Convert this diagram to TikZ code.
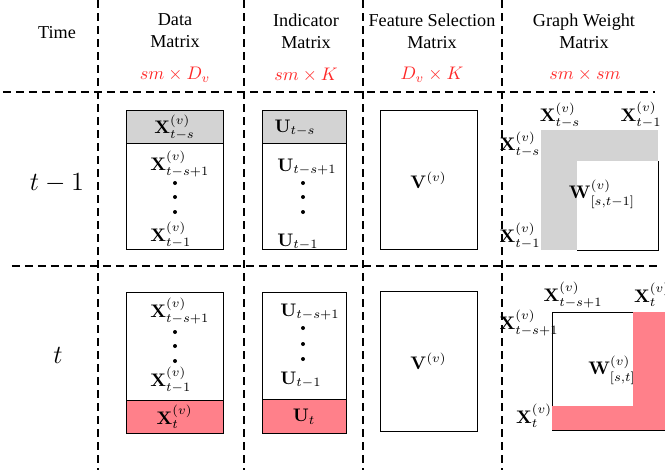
\documentclass[tikz,border=0pt]{standalone}
\usepackage[no-math]{fontspec}
\setmainfont{Liberation Serif}
\usepackage{xcolor}
\usetikzlibrary{positioning}

\definecolor{shadegray}{RGB}{211,211,211}
\definecolor{newpink}{RGB}{255,128,138}
\definecolor{dimred}{RGB}{255,40,40}

\begin{document}
\begin{tikzpicture}[
    x=0.55pt, y=-0.55pt,
    grid/.style={draw, line width=0.8pt, dash pattern=on 4.4pt off 2.75pt},
    mat/.style={draw, line width=0.5pt},
    hdr/.style={align=center, font=\normalsize},
    dimlbl/.style={text=dimred},
    timelbl/.style={font=\fontsize{13.5}{16}\selectfont},
    entry/.style={inner sep=0pt},
    lentry/.style={inner sep=0pt, anchor=west}
]
\useasboundingbox (0,0) rectangle (665,470);

% Grid
\foreach \gx in {98,244,363,502}
    \draw [grid] (\gx,0) -- (\gx,470);
\draw [grid] (3,92) -- (655,92);
\draw [grid] (12,266) -- (660,266);

% Header Section
\node [hdr] (timehd) at (57,33) {Time};
\node [hdr] (datahd) at (175,31) {Data\\Matrix};
\node [hdr] (indhd) at (306,31) {Indicator\\Matrix};
\node [hdr] (feathd) at (432,31) {Feature Selection\\Matrix};
\node [hdr] (graphhd) at (584,31) {Graph Weight\\Matrix};
\node [dimlbl] (datadim) at (175,75) {$sm\times D_v$};
\node [dimlbl] (inddim) at (306,75) {$sm\times K$};
\node [dimlbl] (featdim) at (432,75) {$D_v\times K$};
\node [dimlbl] (graphdim) at (585,75) {$sm\times sm$};

% Time labels
\node [timelbl] (prevt) at (57,183) {$t-1$};
\node [timelbl] (curt) at (58,355) {$t$};

% Row t-1: boxes
\fill [shadegray] (126,110) rectangle (223,143);
\draw [mat] (126,110) rectangle (223,249);
\draw [mat] (126,143) -- (223,143);
\fill [shadegray] (262,110) rectangle (346,143);
\draw [mat] (262,110) rectangle (346,249);
\draw [mat] (262,143) -- (346,143);
\draw [mat] (380,110) rectangle (477,249);

% Row t-1: entries
\node [entry] (xa1) at (174.5,127) {$\mathbf{X}^{(v)}_{t-s}$};
\node [lentry] (xa2) at (150,164) {$\mathbf{X}^{(v)}_{t-s+1}$};
\node [lentry] (xa3) at (150,235) {$\mathbf{X}^{(v)}_{t-1}$};
\node [entry] (ua1) at (295,128) {$\mathbf{U}_{t-s}$};
\node [lentry] (ua2) at (277,167) {$\mathbf{U}_{t-s+1}$};
\node [lentry] (ua3) at (277,242) {$\mathbf{U}_{t-1}$};
\node [entry] (va) at (428.5,180) {$\mathbf{V}^{(v)}$};
\foreach \dy in {183,197,212} {
    \fill (175,\dy) circle [radius=1.1pt];
    \fill (303,\dy) circle [radius=1.1pt];
}

% Row t-1: graph weight
\fill [shadegray] (541,130) rectangle (658,250);
\fill [white] (577,161) rectangle (658,250);
\draw [mat] (577,250) -- (658,250) -- (658,161);
\node [entry] (gatop1) at (560,115) {$\mathbf{X}^{(v)}_{t-s}$};
\node [entry] (gatop2) at (641,115) {$\mathbf{X}^{(v)}_{t-1}$};
\node [entry] (galeft1) at (520,144) {$\mathbf{X}^{(v)}_{t-s}$};
\node [entry] (galeft2) at (520,236) {$\mathbf{X}^{(v)}_{t-1}$};
\node [entry] (wa) at (602,194) {$\mathbf{W}^{(v)}_{[s,t-1]}$};

% Row t: boxes
\fill [newpink] (126,400) rectangle (223,433);
\draw [mat] (126,292) rectangle (223,433);
\draw [mat] (126,400) -- (223,400);
\fill [newpink] (262,399) rectangle (346,433);
\draw [mat] (262,292) rectangle (346,433);
\draw [mat] (262,399) -- (346,399);
\draw [mat] (380,291) rectangle (477,431);

% Row t: entries
\node [lentry] (xb1) at (150,311) {$\mathbf{X}^{(v)}_{t-s+1}$};
\node [lentry] (xb2) at (150,380) {$\mathbf{X}^{(v)}_{t-1}$};
\node [entry] (xb3) at (174.5,417) {$\mathbf{X}^{(v)}_{t}$};
\node [lentry] (ub1) at (280,312) {$\mathbf{U}_{t-s+1}$};
\node [lentry] (ub2) at (280,380) {$\mathbf{U}_{t-1}$};
\node [entry] (ub3) at (304,417) {$\mathbf{U}_{t}$};
\node [entry] (vb) at (428.5,361) {$\mathbf{V}^{(v)}$};
\foreach \dy in {332,346,361}
    \fill (175,\dy) circle [radius=1.1pt];
\foreach \dy in {328,344,359}
    \fill (303,\dy) circle [radius=1.1pt];

% Row t: graph weight
\draw [mat] (552,430) -- (552,312) -- (665,312);
\fill [newpink] (633,312) rectangle (665,430);
\fill [newpink] (552,406) rectangle (665,430);
\draw [mat] (552,430) -- (665,430);
\node [entry] (gbtop1) at (573,295) {$\mathbf{X}^{(v)}_{t-s+1}$};
\node [entry] (gbtop2) at (652,295) {$\mathbf{X}^{(v)}_{t}$};
\node [entry] (gbleft1) at (529,323) {$\mathbf{X}^{(v)}_{t-s+1}$};
\node [entry] (gbleft2) at (534,416) {$\mathbf{X}^{(v)}_{t}$};
\node [entry] (wb) at (612,370) {$\mathbf{W}^{(v)}_{[s,t]}$};

\end{tikzpicture}
\end{document}
